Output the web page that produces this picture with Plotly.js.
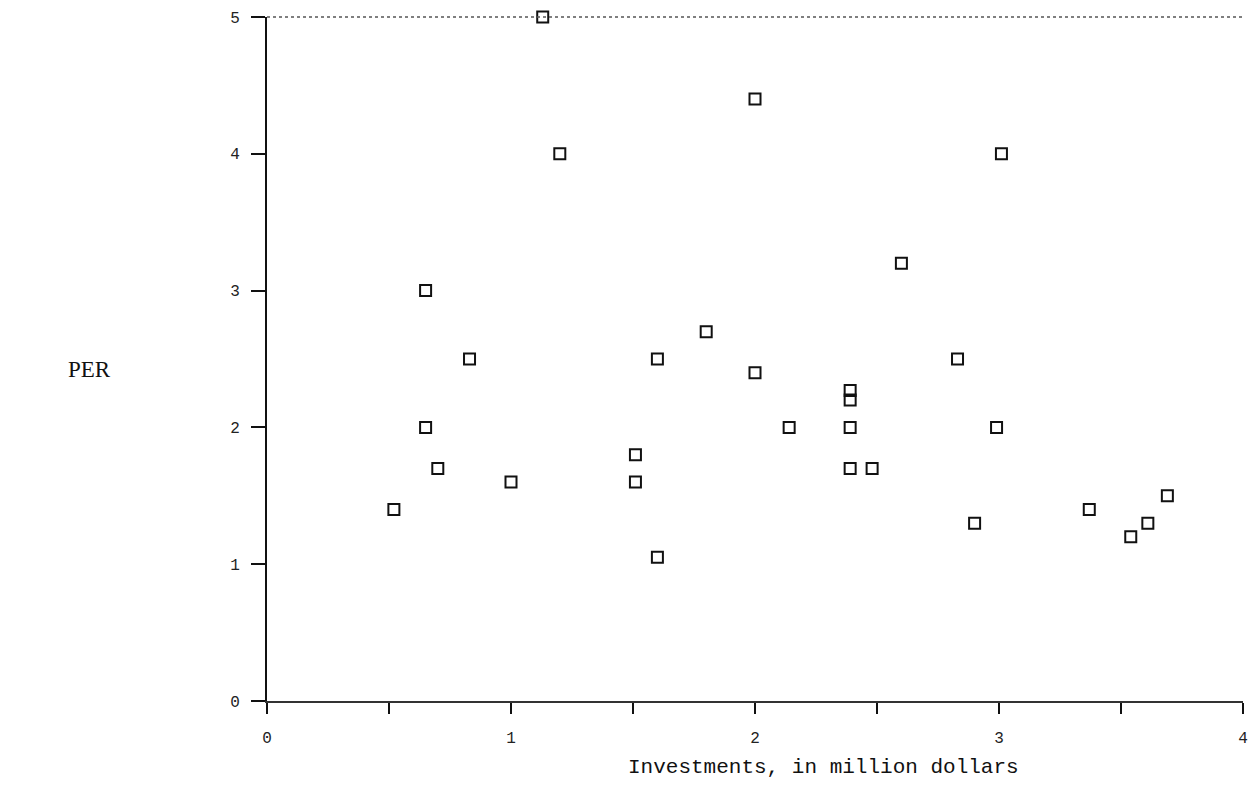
<!DOCTYPE html>
<html>
<head>
<meta charset="utf-8">
<script src="https://cdn.plot.ly/plotly-3.0.1.min.js"></script>
<style>
  html, body { margin: 0; padding: 0; background: #fff; }
  #chart { width: 1251px; height: 802px; }
</style>
</head>
<body>
<div id="chart"></div>
<script>
// Investments (million dollars) and PER
const investments = [0.52, 0.65, 0.65, 0.70, 0.83, 1.00, 1.13, 1.20, 1.51, 1.51, 1.60, 1.60, 1.80, 2.00, 2.00, 2.14, 2.39, 2.39, 2.39, 2.39, 2.48, 2.60, 2.83, 2.90, 2.99, 3.01, 3.37, 3.54, 3.61, 3.69];
const per         = [1.40, 3.00, 2.00, 1.70, 2.50, 1.60, 5.00, 4.00, 1.80, 1.60, 1.05, 2.50, 2.70, 4.40, 2.40, 2.00, 2.27, 2.20, 2.00, 1.70, 1.70, 3.20, 2.50, 1.30, 2.00, 4.00, 1.40, 1.20, 1.30, 1.50];

const xTickVals = [0, 1, 2, 3, 4];
const xTickText = ['0', '1', '2', '3', '4'];
const yTickVals = [0, 1, 2, 3, 4, 5];
const yTickText = ['0', '1', '2', '3', '4', '5'];

const trace = {
  x: investments,
  y: per,
  type: 'scatter',
  mode: 'markers',
  cliponaxis: false,
  marker: {
    symbol: 'square-open',
    size: 11,
    color: '#111',
    line: { width: 2, color: '#111' }
  },
  hoverinfo: 'x+y'
};

const tickFont = { family: 'Liberation Mono, DejaVu Sans Mono, monospace', size: 16, color: '#222' };

const layout = {
  width: 1251,
  height: 802,
  margin: { l: 267, r: 8, t: 17, b: 101 },
  paper_bgcolor: '#ffffff',
  plot_bgcolor: '#ffffff',
  showlegend: false,
  xaxis: {
    range: [0, 4],
    showgrid: false,
    zeroline: false,
    showline: true,
    linecolor: '#333',
    linewidth: 1.5,
    ticks: 'outside',
    ticklen: 11,
    tickwidth: 2,
    tickcolor: '#111',
    tickvals: xTickVals,
    ticktext: xTickText,
    tickfont: tickFont,
    ticklabelstandoff: 10,
    minor: { dtick: 0.5, ticks: 'outside', ticklen: 11, tickwidth: 2, tickcolor: '#111', showgrid: false },
    fixedrange: true
  },
  yaxis: {
    range: [0, 5],
    showgrid: false,
    zeroline: false,
    showline: true,
    linecolor: '#111',
    linewidth: 2,
    ticks: 'outside',
    ticklen: 14,
    tickwidth: 2,
    tickcolor: '#111',
    tickvals: yTickVals,
    ticktext: yTickText,
    tickfont: tickFont,
    ticklabelstandoff: 8,
    fixedrange: true
  },
  shapes: [
    {
      type: 'line', xref: 'paper', yref: 'paper',
      x0: 0, x1: 1, y0: 1, y1: 1,
      line: { color: '#555', width: 1.5, dash: 'dot' }
    }
  ],
  annotations: [
    {
      text: 'Investments, in million dollars',
      xref: 'paper', yref: 'paper',
      x: (823 - 267) / 976, y: -(767 - 701) / 684,
      xanchor: 'center', yanchor: 'middle',
      showarrow: false,
      font: { family: 'Liberation Mono, DejaVu Sans Mono, monospace', size: 21, color: '#111' }
    },
    {
      text: 'PER',
      xref: 'paper', yref: 'paper',
      x: -(267 - 89) / 976, y: (701 - 369) / 684,
      xanchor: 'center', yanchor: 'middle',
      showarrow: false,
      font: { family: 'Liberation Serif, DejaVu Serif, serif', size: 23, color: '#111' }
    }
  ]
};

Plotly.newPlot('chart', [trace], layout, { displayModeBar: false, staticPlot: true });
</script>
</body>
</html>
